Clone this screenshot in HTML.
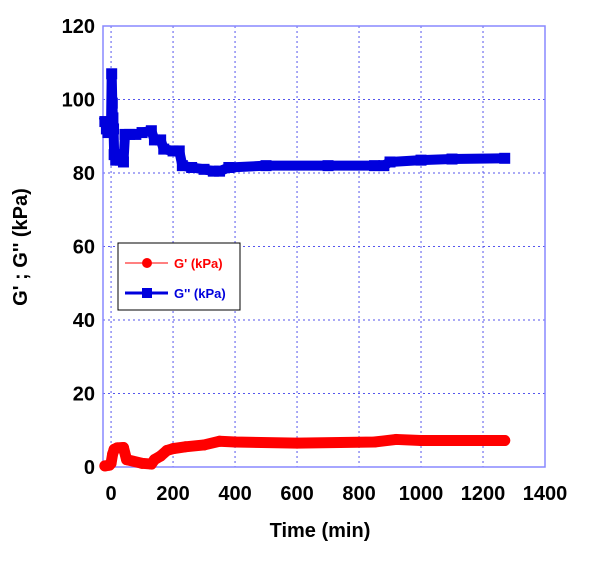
<!DOCTYPE html>
<html><head><meta charset="utf-8"><style>
body{margin:0;background:#fff}
svg text{font-family:"Liberation Sans",Arial,sans-serif;font-weight:bold}
</style></head><body>
<svg id="c" width="600" height="574" viewBox="0 0 600 574"></svg>
<script>
const xTicks=[0,200,400,600,800,1000,1200,1400];
const yTicks=[0,20,40,60,80,100,120];
const gppTime=[-20,-15,-10,-5,0,2,4,6,8,10,15,30,40,45,60,80,100,130,140,160,170,200,220,230,260,300,330,350,380,500,700,850,880,900,1000,1100,1270];
const gppVal=[94,92,91,92,93,107,99,95,92,85,83.5,83.5,83,90.5,90.5,90.5,91,91.5,89,89,86.5,86,86,82,81.5,81,80.5,80.5,81.5,82,82,82,82,83,83.5,83.8,84];
const gpTime=[-20,-5,0,5,10,20,40,50,100,130,140,160,180,200,240,300,350,400,600,850,920,1000,1270];
const gpVal=[0.3,0.5,1,3.5,4.8,5.2,5.3,2,1,0.8,2,3,4.5,5,5.5,6,7,6.8,6.5,6.8,7.5,7.2,7.2];
const L=103,R=545,T=26,B=467,xMin=-26,xMax=1400,yMin=0,yMax=120;
const sx=v=>L+(v-xMin)/(xMax-xMin)*(R-L);
const sy=v=>B-(v-yMin)/(yMax-yMin)*(B-T);
const svg=document.getElementById('c');const NS='http://www.w3.org/2000/svg';
function mk(t,a,p){const e=document.createElementNS(NS,t);for(const k in a)e.setAttribute(k,a[k]);(p||svg).appendChild(e);return e;}
xTicks.forEach(v=>{
 if(v<1400){const g=mk('line',{x1:sx(v),x2:sx(v),y1:T,y2:B,stroke:'#5555ee','stroke-width':1,'stroke-dasharray':'2,3'});
 
 }
 const t=mk('text',{x:sx(v),y:B+33,'text-anchor':'middle','font-size':20,fill:'#000'});t.textContent=v;
 
 
});
yTicks.forEach(v=>{
 if(v>0&&v<120){const g=mk('line',{x1:L,x2:R,y1:sy(v),y2:sy(v),stroke:'#5555ee','stroke-width':1,'stroke-dasharray':'2,3'});
 
 }
 const t=mk('text',{x:L-8,y:sy(v)+7,'text-anchor':'end','font-size':20,fill:'#000'});t.textContent=v;
 
 
});
const fr=mk('rect',{x:L,y:T,width:R-L,height:B-T,fill:'none',stroke:'#8888ff','stroke-width':1.5});


function series(ts,vs,color,name,sq){
 const g=mk('g',{});
 
 
 const pts=ts.map((t,i)=>sx(t)+','+sy(vs[i])).join(' ');
 mk('polyline',{points:pts,fill:'none',stroke:color,'stroke-width':sq?10:11,'stroke-linejoin':'round','stroke-linecap':sq?'square':'round'},g);
 ts.forEach((t,i)=>{
  const m=sq?mk('rect',{x:sx(t)-5.5,y:sy(vs[i])-5.5,width:11,height:11,fill:color},g):mk('circle',{cx:sx(t),cy:sy(vs[i]),r:5.5,fill:color},g);
  
  
 });
}
series(gppTime,gppVal,'#0000dd','series-g-double-prime',true);
series(gpTime,gpVal,'#ff0000','series-g-prime',false);
const xt=mk('text',{x:(L+R)/2-4,y:537,'text-anchor':'middle','font-size':20,fill:'#000'});xt.textContent='Time (min)';


const yt=mk('text',{x:0,y:0,'text-anchor':'middle','font-size':20,fill:'#000',transform:'translate(27,247) rotate(-90)'});yt.textContent="G' ; G'' (kPa)";


const lg=mk('g',{});


mk('rect',{x:118,y:243,width:122,height:67,fill:'#fff',stroke:'#000','stroke-width':1},lg);
mk('line',{x1:125,x2:168,y1:263,y2:263,stroke:'#ff0000','stroke-width':1},lg);
mk('circle',{cx:147,cy:263,r:5,fill:'#ff0000'},lg);
const l1=mk('text',{x:174,y:268,'font-size':13,fill:'#ff0000'},lg);l1.textContent="G' (kPa)";


mk('line',{x1:125,x2:168,y1:293,y2:293,stroke:'#0000dd','stroke-width':3},lg);
mk('rect',{x:142,y:288,width:10,height:10,fill:'#0000dd'},lg);
const l2=mk('text',{x:174,y:298,'font-size':13,fill:'#0000dd'},lg);l2.textContent="G'' (kPa)";


</script>
</body></html>
